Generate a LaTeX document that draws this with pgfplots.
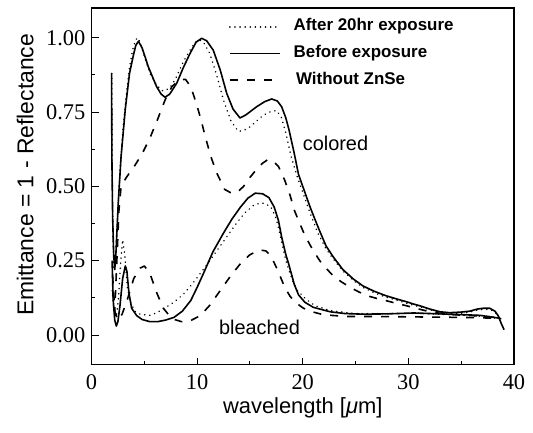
\documentclass[border=0pt]{standalone}
\usepackage{fontspec}
\setmainfont{Liberation Serif}
\newfontfamily\arial{Liberation Sans}
\usepackage{pgfplots}
\pgfplotsset{compat=1.18}
\begin{document}
\begin{tikzpicture}
\begin{axis}[
  name=ax,
  scale only axis,
  width=422.5bp, height=356.7bp,
  xmin=0, xmax=40, ymin=-0.1, ymax=1.1,
  xtick={0,10,20,30,40},
  ytick={0,0.25,0.5,0.75,1},
  minor x tick num=1, minor y tick num=1,
  xtick pos=left, ytick pos=left,
  tick align=inside,
  major tick length=7bp, minor tick length=4bp,
  every tick/.style={black, line width=0.9bp},
  axis line style={line width=1.2bp},
  /pgf/number format/assume math mode=true,
  yticklabel style={/pgf/number format/fixed, /pgf/number format/fixed zerofill, /pgf/number format/precision=2, inner sep=0pt, xshift=-6bp},
  xticklabel style={inner sep=0pt, yshift=-10bp},
  tick label style={font=\fontsize{22.5}{26}\selectfont},
  xlabel={wavelength [{\itshape μ}m]},
  ylabel={Emittance = 1 - Reflectance},
  every axis x label/.style={at={(axis description cs:0.5,-0.121)}, anchor=center, font=\arial\fontsize{22}{26}\selectfont},
  every axis y label/.style={at={(axis description cs:-0.157,0.532)}, rotate=90, anchor=center, font=\arial\fontsize{23}{27}\selectfont},
  legend style={draw=none, fill=none, at={(axis cs:13.0,0.947)}, anchor=west, inner sep=0pt,
    font=\arial\bfseries\fontsize{17}{20}\selectfont, row sep=9.7bp, column sep=13bp,
    nodes={inner sep=0pt, text height=12.5bp, text depth=4.5bp}},
  legend cell align=left,
  legend image code/.code={\draw[#1] (0bp,0bp) -- (50bp,0bp);},
  every axis plot/.append style={black, line join=round},
]
% colored: after 20hr (dotted)
\addplot[line width=1.6bp, dash pattern=on 0.1bp off 5bp, line cap=round] coordinates {
(1.92,0.88)(1.96,0.55)(2.03,0.33)(2.12,0.22)(2.25,0.24)(2.45,0.38)(2.7,0.55)(3.0,0.7)(3.3,0.81)(3.6,0.9)(3.9,0.96)(4.15,0.99)(4.35,1.0)(4.6,0.985)(5.07,0.93)(5.6,0.875)(6.17,0.84)(6.7,0.822)(7.1,0.824)(7.6,0.84)(8.07,0.87)(8.7,0.92)(9.33,0.958)(9.8,0.984)(10.2,0.993)(10.6,0.985)(11.2,0.947)(11.8,0.88)(12.5,0.79)(13.2,0.72)(13.9,0.685)(14.4,0.688)(15.0,0.70)(15.7,0.722)(16.3,0.74)(17.0,0.752)(17.5,0.755)(17.95,0.735)(18.4,0.68)(18.9,0.6)(19.5,0.53)(20.1,0.47)(20.7,0.41)(21.4,0.345)(22.2,0.29)(22.9,0.255)(23.8,0.215)(24.8,0.183)(25.7,0.16)(26.7,0.143)(27.8,0.128)(28.9,0.117)(29.8,0.107)(30.5,0.1)(31.2,0.094)(32.0,0.085)(33.0,0.076)(33.9,0.072)(35.0,0.073)(35.8,0.077)(36.5,0.083)(37.1,0.086)(37.7,0.086)(38.2,0.077)(38.5,0.063)(38.8,0.05)
};
\addlegendentry{After 20hr exposure}
% colored: before exposure (solid)
\addplot[line width=1.6bp] coordinates {
(1.9,0.88)(1.93,0.6)(2.0,0.4)(2.1,0.27)(2.2,0.22)(2.32,0.28)(2.54,0.45)(2.8,0.6)(3.2,0.76)(3.6,0.88)(3.96,0.94)(4.2,0.975)(4.45,0.988)(4.8,0.965)(5.38,0.902)(6.17,0.835)(6.6,0.81)(6.96,0.80)(7.4,0.81)(8.07,0.847)(8.7,0.9)(9.33,0.947)(9.9,0.985)(10.43,0.998)(10.9,0.99)(11.53,0.958)(12.2,0.89)(12.8,0.813)(13.4,0.76)(14.06,0.73)(14.6,0.74)(15.64,0.768)(16.4,0.785)(17.06,0.794)(17.6,0.787)(18.0,0.768)(18.4,0.73)(18.7,0.69)(19.2,0.61)(19.6,0.54)(20.2,0.48)(20.7,0.43)(21.2,0.385)(21.6,0.35)(22.2,0.30)(22.9,0.262)(23.8,0.22)(24.8,0.188)(25.7,0.165)(26.7,0.148)(27.8,0.133)(28.9,0.121)(29.8,0.112)(30.5,0.104)(31.2,0.097)(32.05,0.087)(33.0,0.078)(33.9,0.075)(35.0,0.077)(35.8,0.08)(36.5,0.087)(37.1,0.09)(37.7,0.09)(38.2,0.08)(38.5,0.065)(38.8,0.038)(39.06,0.018)
};
\addlegendentry{Before exposure}
% colored: without ZnSe (dashed)
\addplot[line width=1.6bp, dash pattern=on 8bp off 9bp] coordinates {
(2.0,0.15)(2.2,0.08)(2.4,0.25)(2.6,0.42)(2.8,0.5)(3.3,0.53)(4.1,0.57)(4.8,0.61)(5.5,0.66)(6.2,0.72)(6.96,0.79)(7.6,0.835)(8.3,0.858)(8.9,0.86)(9.4,0.835)(9.96,0.775)(10.4,0.72)(10.75,0.67)(11.3,0.6)(11.86,0.545)(12.6,0.49)(13.3,0.476)(13.9,0.483)(14.4,0.50)(15.0,0.53)(15.6,0.556)(16.2,0.578)(16.7,0.59)(17.2,0.585)(17.7,0.567)(18.3,0.52)(18.8,0.47)(19.2,0.42)(19.6,0.385)(20.2,0.335)(21.0,0.283)(21.8,0.24)(22.75,0.204)(23.6,0.18)(24.5,0.16)(25.3,0.145)(26.1,0.132)(27.0,0.123)(27.95,0.115)(28.9,0.106)(29.85,0.098)(30.8,0.089)(31.7,0.081)(32.6,0.075)(33.6,0.07)(35.0,0.067)(36.8,0.064)(38.0,0.06)(38.8,0.057)
};
\addlegendentry{\hspace{2.5bp}Without ZnSe}
% bleached: after 20hr (dotted)
\addplot[line width=1.6bp, dash pattern=on 0.1bp off 5bp, line cap=round, forget plot] coordinates {
(1.97,0.15)(2.15,0.07)(2.35,0.06)(2.55,0.12)(2.75,0.24)(2.95,0.32)(3.15,0.27)(3.4,0.16)(3.7,0.11)(4.1,0.08)(4.6,0.07)(5.5,0.066)(6.2,0.075)(6.9,0.09)(7.8,0.11)(8.75,0.139)(9.5,0.17)(10.3,0.207)(11.2,0.25)(12.2,0.30)(13.0,0.34)(13.75,0.377)(14.5,0.41)(15.3,0.435)(15.9,0.443)(16.4,0.443)(17.0,0.43)(17.5,0.39)(17.9,0.33)(18.4,0.25)(19.0,0.185)(19.5,0.15)(20.3,0.12)(21.2,0.098)(22.6,0.082)(25,0.072)(28,0.072)(31,0.073)(34,0.068)(36.8,0.063)(38.7,0.055)
};
% bleached: before exposure (solid)
\addplot[line width=1.6bp, forget plot] coordinates {
(1.95,0.25)(2.05,0.12)(2.2,0.05)(2.35,0.03)(2.5,0.045)(2.7,0.1)(2.95,0.19)(3.2,0.232)(3.35,0.215)(3.55,0.14)(3.8,0.09)(4.28,0.065)(4.8,0.052)(5.5,0.045)(6.3,0.045)(7.0,0.05)(7.8,0.059)(8.6,0.08)(9.4,0.116)(10.0,0.16)(10.6,0.207)(11.5,0.28)(12.5,0.343)(13.3,0.39)(14.1,0.43)(14.8,0.46)(15.5,0.477)(16.2,0.475)(16.8,0.462)(17.3,0.43)(17.7,0.385)(18.0,0.33)(18.4,0.27)(18.7,0.235)(19.2,0.17)(19.6,0.135)(20.2,0.11)(21.0,0.093)(22.6,0.078)(24.0,0.072)(25.7,0.07)(28,0.071)(30.5,0.074)(33,0.071)(36.8,0.066)(38.7,0.056)
};
% bleached: without ZnSe (dashed)
\addplot[line width=1.6bp, dash pattern=on 8bp off 9bp, forget plot] coordinates {
(2.0,0.2)(2.2,0.08)(2.5,0.05)(2.9,0.07)(3.4,0.12)(4.0,0.19)(4.6,0.225)(5.0,0.232)(5.5,0.21)(6.2,0.14)(6.8,0.09)(7.6,0.055)(8.5,0.045)(9.2,0.045)(10.3,0.065)(11.2,0.1)(12.2,0.15)(13.2,0.2)(14.1,0.24)(15.0,0.27)(15.9,0.286)(16.5,0.283)(17.0,0.265)(17.6,0.22)(18.3,0.16)(18.8,0.13)(19.3,0.11)(20.06,0.09)(21.0,0.077)(21.95,0.068)(24.2,0.062)(27.3,0.062)(30,0.061)(33,0.06)(36.8,0.058)(38.8,0.055)
};
\node[font=\arial\fontsize{20}{24}\selectfont, inner sep=0pt] at (axis cs:23.1,0.645) {colored};
\node[font=\arial\fontsize{20}{24}\selectfont, inner sep=0pt] at (axis cs:15.9,0.026) {bleached};
\end{axis}
\pgfresetboundingbox
\path (ax.south west) ++(-91.5bp,-68.3bp) rectangle ++(533bp,433bp);
\end{tikzpicture}
\end{document}
